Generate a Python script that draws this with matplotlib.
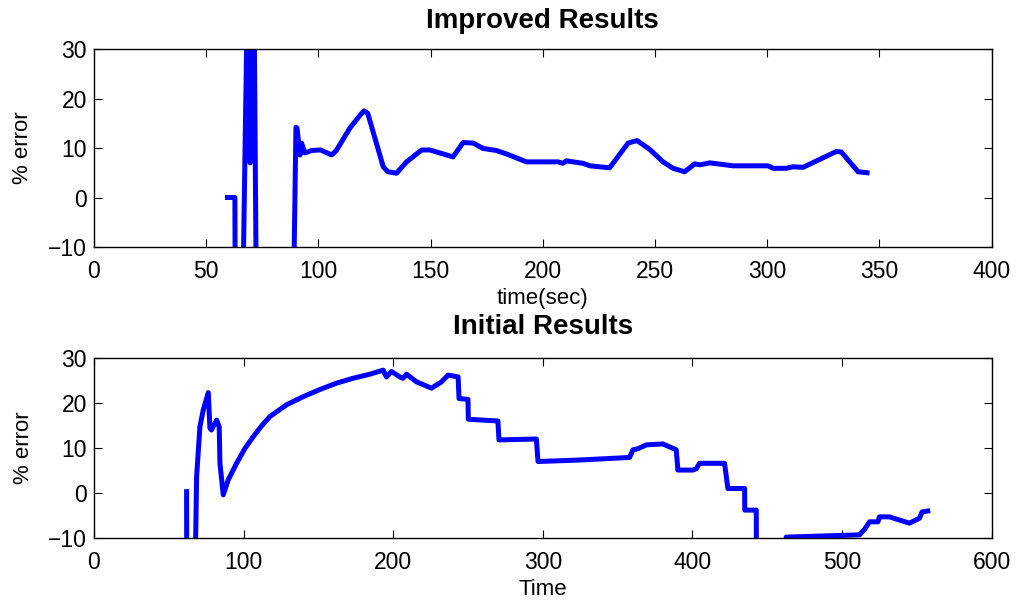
import numpy as np
import matplotlib
matplotlib.use('Agg')
import matplotlib.pyplot as plt

plt.rcParams['font.family'] = ['Liberation Sans', 'DejaVu Sans']

# Improved results (top)
t_improved = [59.5, 62.8, 63.0, 66.0, 69.0, 69.6, 71.0, 72.5, 88.6, 90.0, 90.5,
              91.8, 92.5, 94.0, 97.0, 101.0, 105.9, 108.0, 114.0, 118.0, 120.3,
              122.0, 128.9, 131.0, 134.8, 139.3, 146.0, 149.7, 160.0, 164.5,
              169.0, 173.4, 179.3, 183.8, 192.7, 206.8, 209.0, 210.5, 218.0,
              221.0, 229.8, 238.0, 242.0, 247.7, 253.6, 258.0, 263.2, 267.7,
              270.0, 274.4, 284.8, 300.4, 302.6, 308.5, 311.5, 316.0, 330.8,
              333.0, 340.5, 344.5]
err_improved = [0.0, 0.0, -30.0, -30.0, 60.0, 7.0, 60.0, -30.0, -30.0, 14.2,
                14.0, 8.6, 11.0, 9.0, 9.5, 9.6, 8.6, 9.5, 14.0, 16.3, 17.5,
                17.0, 6.2, 5.2, 4.9, 7.2, 9.6, 9.6, 8.2, 11.1, 11.0, 9.9, 9.5,
                8.8, 7.2, 7.2, 6.9, 7.4, 6.9, 6.4, 6.0, 11.0, 11.5, 9.7, 7.2,
                5.9, 5.2, 6.8, 6.6, 7.0, 6.4, 6.4, 5.9, 5.9, 6.2, 6.1, 9.3, 9.2,
                5.2, 5.0]

# Initial results (bottom)
t_initial = [61.9, 62.0, 67.5, 68.6, 70.8, 73.0, 76.4, 77.5, 78.5, 82.0, 83.7,
             84.2, 86.4, 89.7, 95.3, 100.9, 106.4, 112.0, 117.6, 128.7, 139.8,
             151.0, 162.0, 173.2, 184.4, 193.3, 195.5, 198.9, 204.4, 206.6,
             208.9, 215.6, 225.6, 232.3, 236.7, 243.4, 244.0, 250.0, 250.2,
             270.0, 270.7, 295.7, 296.8, 322.5, 358.0, 360.3, 363.3, 369.2,
             380.3, 389.2, 390.3, 400.3, 402.6, 404.8, 421.5, 423.7, 434.9,
             435.0, 442.7, 442.8, 462.5, 462.7, 511.7, 515.0, 516.2, 518.4,
             524.0, 525.0, 531.7, 545.0, 551.8, 553.5, 557.3]
err_initial = [0.3, -20.0, -20.0, 3.6, 14.7, 18.4, 22.3, 14.4, 14.0, 16.2,
               14.7, 6.6, -0.4, 2.9, 6.6, 9.9, 12.5, 14.9, 17.0, 19.6, 21.4,
               23.0, 24.4, 25.5, 26.4, 27.3, 25.8, 27.0, 25.8, 25.5, 26.4,
               24.7, 23.3, 24.7, 26.2, 25.8, 21.0, 20.8, 16.4, 16.0, 11.8,
               12.0, 7.0, 7.3, 7.9, 9.6, 9.8, 10.7, 10.9, 9.6, 5.1, 5.1, 5.4,
               6.6, 6.6, 1.0, 1.0, -3.8, -3.8, -20.0, -20.0, -9.8, -9.3, -8.1,
               -7.5, -6.4, -6.4, -5.3, -5.3, -6.7, -5.6, -4.2, -4.0]


def style_axes(ax):
    for s in ax.spines.values():
        s.set_linewidth(1.0)
    ax.tick_params(direction='in', length=6, width=0.8, top=True, right=True,
                   labelsize=16.5)
    ax.tick_params(axis='x', pad=9)
    ax.tick_params(axis='y', pad=5)


fig = plt.figure(figsize=(10.16, 6.02), dpi=100)

ax1 = fig.add_axes([0.0925, 0.5897, 0.8835, 0.3289])
ax1.plot(t_improved, err_improved, color='#0000ff', linewidth=3.6,
         solid_joinstyle='round')
ax1.set_xlim(0, 400)
ax1.set_ylim(-10, 30)
ax1.set_xticks(np.arange(0, 401, 50))
ax1.set_yticks(np.arange(-10, 31, 10))
ax1.set_title('Improved Results', fontsize=20, fontweight='bold', pad=15)
ax1.set_xlabel('time(sec)', fontsize=16, labelpad=4)
ax1.set_ylabel('% error', fontsize=16, labelpad=11)
style_axes(ax1)

ax2 = fig.add_axes([0.0925, 0.1063, 0.8835, 0.299])
ax2.plot(t_initial, err_initial, color='#0000ff', linewidth=3.6,
         solid_joinstyle='round')
ax2.set_xlim(0, 600)
ax2.set_ylim(-10, 30)
ax2.set_xticks(np.arange(0, 601, 100))
ax2.set_yticks(np.arange(-10, 31, 10))
ax2.set_title('Initial Results', fontsize=20, fontweight='bold', pad=17)
ax2.set_xlabel('Time', fontsize=16, labelpad=4)
ax2.set_ylabel('% error', fontsize=16, labelpad=10)
style_axes(ax2)

fig.savefig('out.png', dpi=100)
